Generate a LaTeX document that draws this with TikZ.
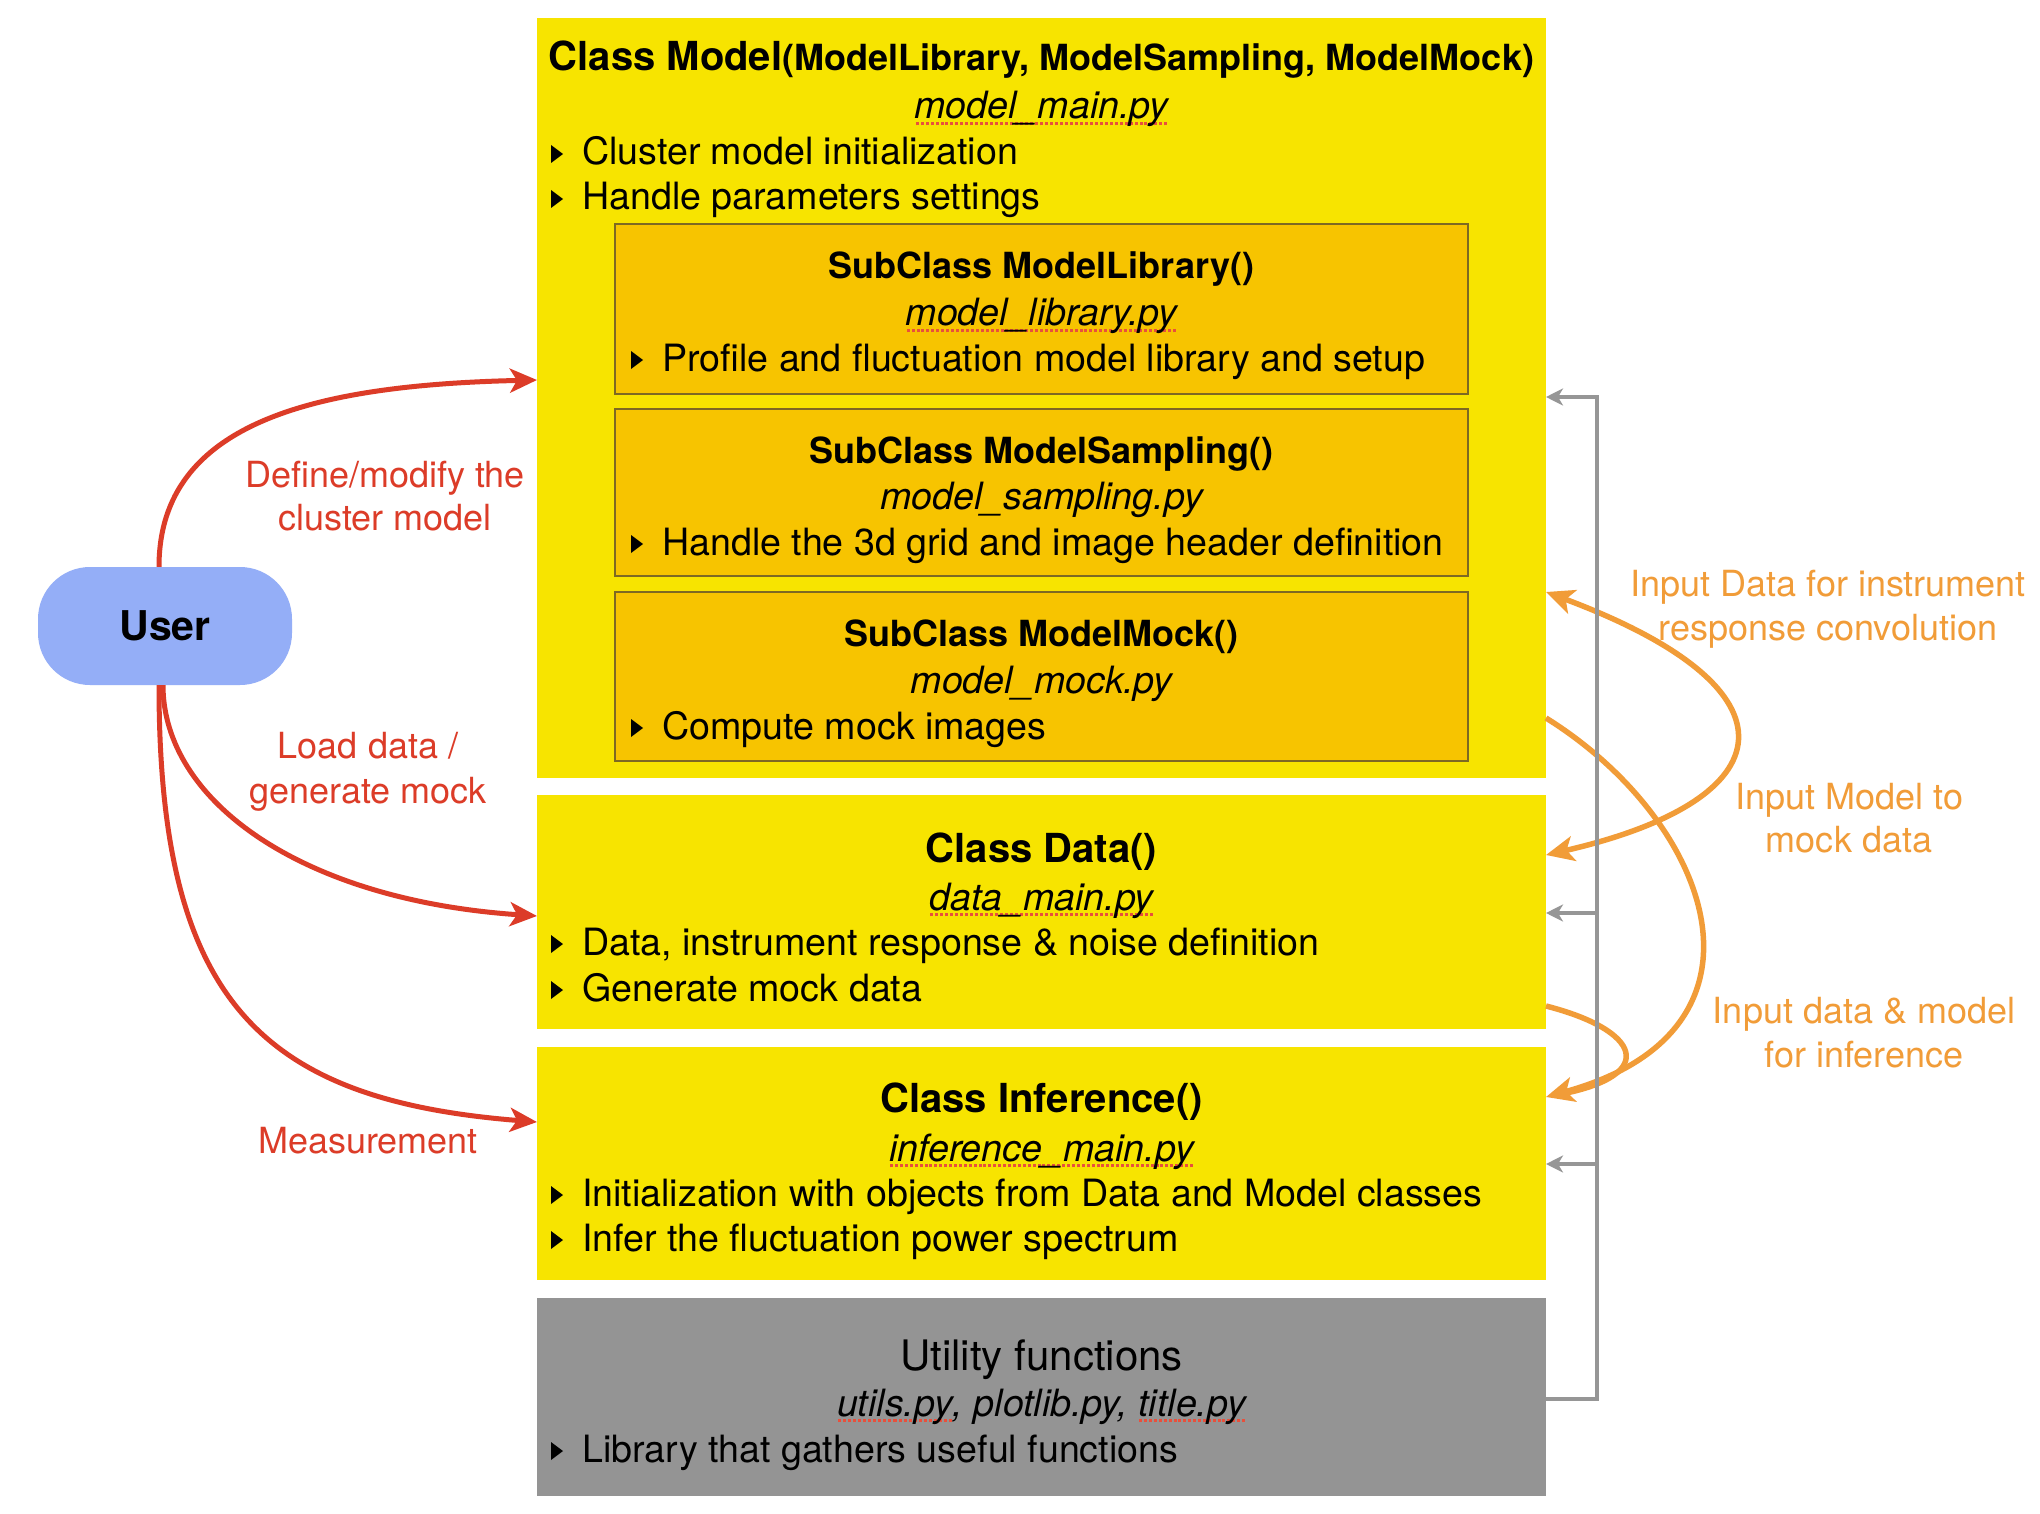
\documentclass[tikz,border=0pt]{standalone}
\usepackage{fontspec}
\setmainfont{TeX Gyre Heros}
\usetikzlibrary{arrows.meta}
\definecolor{ybox}{RGB}{247,228,0}
\definecolor{sbox}{RGB}{247,196,0}
\definecolor{sedge}{RGB}{125,105,35}
\definecolor{ugrey}{RGB}{148,148,148}
\definecolor{lgrey}{RGB}{150,150,150}
\definecolor{ured}{RGB}{220,60,40}
\definecolor{uorange}{RGB}{241,156,56}
\definecolor{ublue}{RGB}{148,174,247}
\definecolor{spellred}{RGB}{232,80,60}
\newcommand\fsbody{\fontsize{37.6}{45}\selectfont}
\newcommand\fsbig{\fontsize{40}{48}\selectfont\bfseries}
\newcommand\fssub{\fontsize{36}{43}\selectfont\bfseries}
\newcommand\fslab{\fontsize{36}{43}\selectfont}
\newcommand\spl[1]{\setbox0\hbox{#1}\rlap{\lower0.17em\hbox to\wd0{\color{spellred}\xleaders\hbox{\kern0.025em\rule{0.08em}{0.08em}\kern0.025em}\hfil}}\box0}
\newcommand\bitem[3]{%
  \node[bul] (#1) at (#2) {#3};
  \fill ([xshift=-31pt,yshift=2pt]#1.base west) -- ++(12pt,9pt) -- ++(-12pt,9pt) -- cycle;}
\begin{document}
\begin{tikzpicture}[x=1pt,y=-1pt,
  box/.style={fill=ybox, minimum width=1009pt, inner sep=0, outer sep=0},
  subbox/.style={fill=sbox, draw=sedge, line width=1.3pt, minimum width=853pt, inner sep=0, outer sep=0},
  ttl/.style={anchor=base, inner sep=0, font=\fsbig},
  sttl/.style={anchor=base, inner sep=0, font=\fssub},
  file/.style={anchor=base, inner sep=0, font=\fsbody\itshape},
  bul/.style={anchor=base west, inner sep=0, font=\fsbody},
  rlab/.style={anchor=base, inner sep=0, font=\fslab, text=ured},
  olab/.style={anchor=base, inner sep=0, font=\fslab, text=uorange},
  redarr/.style={draw=ured, line width=5pt, -{Stealth[length=27pt,width=24pt,inset=7pt]}},
  orarr/.style={draw=uorange, line width=5.5pt},
  greyarr/.style={draw=lgrey, line width=4pt, -{Stealth[length=17pt,width=17pt,inset=5pt]}},
]
\fill[white] (0,0) rectangle (2040,1514);
\useasboundingbox (0,0) rectangle (2040,1514);

% main boxes
\node[box, minimum height=760pt] (model) at (1041.5,398) {};
\node[box, minimum height=234pt] (data) at (1041.5,912) {};
\node[box, minimum height=233pt] (infer) at (1041.5,1163.5) {};
\node[box, fill=ugrey, minimum height=198pt] (util) at (1041.5,1397) {};
\node[subbox, minimum height=170pt] (lib) at (1041.5,309) {};
\node[subbox, minimum height=167pt] (samp) at (1041.5,492.5) {};
\node[subbox, minimum height=169pt] (mock) at (1041.5,676.5) {};

% model texts
\node[ttl] (modelT) at (1041.5,71) {Class Model{\fssub(ModelLibrary, ModelSampling, ModelMock)}};
\node[file] (modelF) at (1041.5,119) {\spl{model\_main.py}};
\bitem{modelB1}{582,165}{Cluster model initialization}
\bitem{modelB2}{582,210}{Handle parameters settings}

\node[sttl] (libT) at (1041.5,279) {SubClass ModelLibrary()};
\node[file] (libF) at (1041.5,326) {\spl{model\_library.py}};
\bitem{libB}{662,371}{Profile and fluctuation model library and setup}

\node[sttl] (sampT) at (1041.5,463) {SubClass ModelSampling()};
\node[file] (sampF) at (1041.5,509) {model\_sampling.py};
\bitem{sampB}{662,555}{Handle the 3d grid and image header definition}

\node[sttl] (mockT) at (1041.5,646) {SubClass ModelMock()};
\node[file] (mockF) at (1041.5,693) {model\_mock.py};
\bitem{mockB}{662,739}{Compute mock images}

% data texts
\node[ttl] (dataT) at (1041.5,862) {Class Data()};
\node[file] (dataF) at (1041.5,910) {\spl{data\_main.py}};
\bitem{dataB1}{582,955}{Data, instrument response \& noise definition}
\bitem{dataB2}{582,1001}{Generate mock data}

% inference texts
\node[ttl] (infT) at (1041.5,1112) {Class Inference()};
\node[file] (infF) at (1041.5,1161) {\spl{inference\_main.py}};
\bitem{infB1}{582,1206}{Initialization with objects from Data and Model classes}
\bitem{infB2}{582,1251}{Infer the fluctuation power spectrum}

% utility texts
\node[anchor=base, inner sep=0, font=\fontsize{42}{50}\selectfont] (utilT) at (1041.5,1370) {Utility functions};
\node[file] (utilF) at (1041.5,1416) {\spl{utils.py}, plotlib.py, \spl{title.py}};
\bitem{utilB}{582,1462}{Library that gathers useful functions}

% user
\node[fill=ublue, rounded corners=52pt, minimum width=254pt, minimum height=118pt, inner sep=0,
      font=\fontsize{41}{49}\selectfont\bfseries] (user) at (165,626) {User};

% helper coordinates
\coordinate (mIn) at (0,380);
\coordinate (dIn) at (0,916);
\coordinate (iIn) at (0,1122);
\coordinate (oA1) at (0,592);
\coordinate (oA2) at (0,855);
\coordinate (oB1) at (0,718);
\coordinate (oB2) at (0,1097);
\coordinate (oC1) at (0,1006);
\coordinate (gTop) at (1597,397);
\coordinate (gBot) at (1597,1399);
\coordinate (gData) at (1597,913);
\coordinate (gInf) at (1597,1164);

% red arrows
\draw[redarr] ([xshift=-6pt]user.north) .. controls (159,420) and (320,385) .. (model.west |- mIn);
\draw[redarr] ([xshift=-2pt]user.south) .. controls (163,800) and (300,900) .. (data.west |- dIn);
\draw[redarr] ([xshift=-6pt]user.south) .. controls (159,1000) and (260,1100) .. (infer.west |- iIn);

% orange arrows
\draw[orarr, {Stealth[length=28pt,width=25pt,inset=7pt]}-{Stealth[length=28pt,width=25pt,inset=7pt]}]
  (model.east |- oA1) .. controls (1808,690) and (1785,800) .. (data.east |- oA2);
\draw[orarr, -{Stealth[length=28pt,width=25pt,inset=7pt]}]
  (model.east |- oB1) .. controls (1710,820) and (1790,1030) .. (infer.east |- oB2);
\draw[orarr, shorten >=14pt]
  (data.east |- oC1) .. controls (1640,1030) and (1660,1075) .. (infer.east |- oB2);

% grey connectors
\draw[greyarr] (util.east |- gBot) -- (gBot) -- (gTop) -- (model.east |- gTop);
\draw[greyarr] (gData) -- (data.east |- gData);
\draw[greyarr] (gInf) -- (infer.east |- gInf);

% labels
\node[rlab] (l1a) at (385,487) {Define/modify the};
\node[rlab] (l1b) at (385,530) {cluster model};
\node[rlab] (l2a) at (368,758) {Load data /};
\node[rlab] (l2b) at (368,803) {generate mock};
\node[rlab] (l3) at (368,1153) {Measurement};
\node[olab] (o1a) at (1828,596) {Input Data for instrument};
\node[olab] (o1b) at (1828,640) {response convolution};
\node[olab] (o2a) at (1849,809) {Input Model to};
\node[olab] (o2b) at (1849,852) {mock data};
\node[olab] (o3a) at (1864,1023) {Input data \& model};
\node[olab] (o3b) at (1864,1067) {for inference};
\end{tikzpicture}
\end{document}
